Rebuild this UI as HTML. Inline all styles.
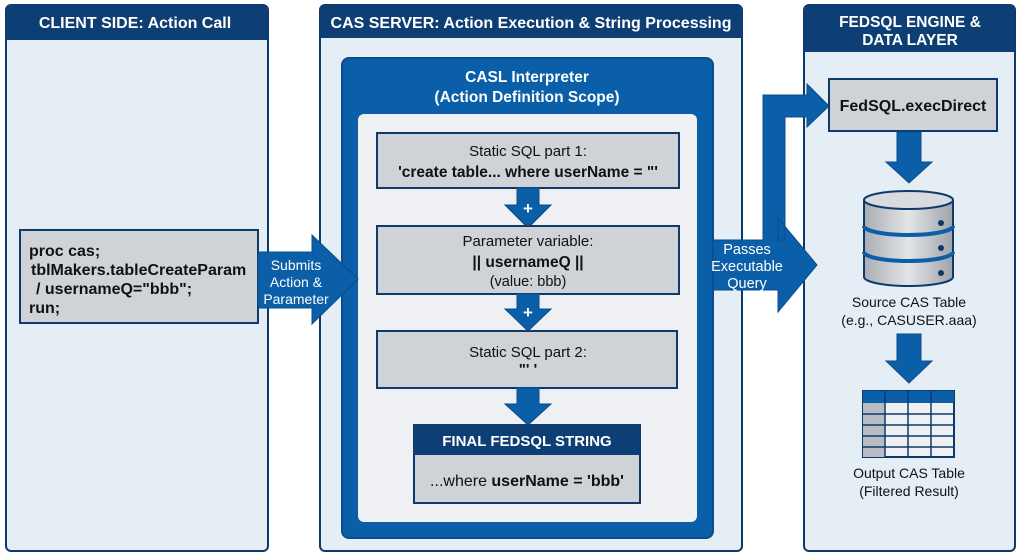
<!DOCTYPE html>
<html><head><meta charset="utf-8"><style>
body{margin:0;background:#fff;}
svg{display:block;font-family:"Liberation Sans",sans-serif;}
</style></head><body>
<svg width="1024" height="559" viewBox="0 0 1024 559">
<defs>
<linearGradient id="cyl" x1="0" x2="1"><stop offset="0" stop-color="#a9adb3"/><stop offset="0.5" stop-color="#e3e5e8"/><stop offset="1" stop-color="#9ea3a9"/></linearGradient>
</defs>
<!-- Left panel -->
<rect x="6" y="5" width="262" height="546" rx="5" fill="#e5edf5" stroke="#0d3a6b" stroke-width="2"/>
<path d="M6 40 V10 a5 5 0 0 1 5 -5 H263 a5 5 0 0 1 5 5 V40 Z" fill="#0e3f74"/>
<text x="135" y="28" fill="#fff" font-size="16" font-weight="bold" text-anchor="middle">CLIENT SIDE: Action Call</text>
<rect x="20" y="230" width="238" height="93" fill="#cfd2d6" stroke="#0d3a6b" stroke-width="2"/>
<g font-size="16" font-weight="bold" fill="#111">
<text x="29" y="256">proc cas;</text>
<text x="31" y="275">tblMakers.tableCreateParam</text>
<text x="36" y="294">/ usernameQ="bbb";</text>
<text x="29" y="313">run;</text>
</g>
<!-- Middle panel -->
<rect x="320" y="5" width="422" height="546" rx="5" fill="#e5edf5" stroke="#0d3a6b" stroke-width="2"/>
<path d="M320 38 V10 a5 5 0 0 1 5 -5 H737 a5 5 0 0 1 5 5 V38 Z" fill="#0e3f74"/>
<text x="531" y="28" fill="#fff" font-size="16" font-weight="bold" text-anchor="middle">CAS SERVER: Action Execution &amp; String Processing</text>
<rect x="342" y="58" width="371" height="480" rx="7" fill="#0b5ea8" stroke="#0b4c8a" stroke-width="2"/>
<text x="527" y="82" fill="#fff" font-size="15.5" font-weight="bold" text-anchor="middle">CASL Interpreter</text>
<text x="527" y="102" fill="#fff" font-size="15.5" font-weight="bold" text-anchor="middle">(Action Definition Scope)</text>
<rect x="358" y="114" width="339" height="408" rx="6" fill="#eef0f3"/>
<!-- boxes -->
<rect x="377" y="133" width="302" height="55" fill="#cfd2d6" stroke="#0d3a6b" stroke-width="2"/>
<text x="528" y="156" font-size="15" text-anchor="middle" fill="#111">Static SQL part 1:</text>
<text x="528" y="177" font-size="15.5" font-weight="bold" text-anchor="middle" fill="#111">'create table... where userName = "'</text>
<path d="M517 188 H539 V205 H551 L528 228 L505 205 H517 Z" fill="#0b5ea8" stroke="#0b4c8a"/>
<text x="528" y="214" font-size="17" font-weight="bold" fill="#fff" text-anchor="middle">+</text>
<rect x="377" y="226" width="302" height="68" fill="#cfd2d6" stroke="#0d3a6b" stroke-width="2"/>
<text x="528" y="246" font-size="15" text-anchor="middle" fill="#111">Parameter variable:</text>
<text x="528" y="267" font-size="15.5" font-weight="bold" text-anchor="middle" fill="#111">|| usernameQ ||</text>
<text x="528" y="286" font-size="14.5" text-anchor="middle" fill="#111">(value: bbb)</text>
<path d="M517 294 H539 V309 H551 L528 331 L505 309 H517 Z" fill="#0b5ea8" stroke="#0b4c8a"/>
<text x="528" y="318" font-size="17" font-weight="bold" fill="#fff" text-anchor="middle">+</text>
<rect x="377" y="331" width="300" height="57" fill="#cfd2d6" stroke="#0d3a6b" stroke-width="2"/>
<text x="528" y="357" font-size="15" text-anchor="middle" fill="#111">Static SQL part 2:</text>
<text x="528" y="374" font-size="15" font-weight="bold" text-anchor="middle" fill="#111">"' '</text>
<path d="M517 388 H539 V404 H551 L528 425 L505 404 H517 Z" fill="#0b5ea8" stroke="#0b4c8a"/>
<rect x="414" y="425" width="226" height="78" fill="#cfd2d6" stroke="#0d3a6b" stroke-width="2"/>
<rect x="414" y="425" width="226" height="30" fill="#0e3f74"/>
<text x="527" y="446" font-size="15" font-weight="bold" fill="#fff" text-anchor="middle">FINAL FEDSQL STRING</text>
<text x="527" y="486" font-size="16" text-anchor="middle" fill="#111">...where <tspan font-weight="bold">userName = 'bbb'</tspan></text>
<!-- Submits arrow -->
<path d="M258 252 H312 V235 L358 279 L312 324 V308 H258 Z" fill="#0b5ea8" stroke="#0b4c8a"/>
<g font-size="14" fill="#fff" text-anchor="middle">
<text x="296" y="270">Submits</text><text x="296" y="287">Action &amp;</text><text x="296" y="304">Parameter</text>
</g>
<!-- Right panel -->
<rect x="804" y="5" width="211" height="546" rx="5" fill="#e5edf5" stroke="#0d3a6b" stroke-width="2"/>
<path d="M804 52 V10 a5 5 0 0 1 5 -5 H1010 a5 5 0 0 1 5 5 V52 Z" fill="#0e3f74"/>
<text x="910" y="27" fill="#fff" font-size="15.5" font-weight="bold" text-anchor="middle">FEDSQL ENGINE &amp;</text>
<text x="910" y="45" fill="#fff" font-size="15.5" font-weight="bold" text-anchor="middle">DATA LAYER</text>
<!-- Passes arrow + up connector -->
<path d="M713 240 H763 V95 H807 V84 L829 106 L807 127 V117 H785 V240 H778 V218 L817 265 L778 312 V290 H713 Z" fill="#0b5ea8" stroke="#0b4c8a"/>
<g font-size="14.5" fill="#fff" text-anchor="middle">
<text x="747" y="254">Passes</text><text x="747" y="271">Executable</text><text x="747" y="288">Query</text>
</g>
<rect x="829" y="79" width="168" height="52" fill="#cfd2d6" stroke="#0d3a6b" stroke-width="2"/>
<text x="913" y="111" font-size="16" font-weight="bold" text-anchor="middle" fill="#111">FedSQL.execDirect</text>
<path d="M897 132 H921 V162 H932 L909 183 L886 162 H897 Z" fill="#0b5ea8" stroke="#0b4c8a"/>
<!-- Cylinder -->
<g stroke="#0d3a6b" stroke-width="2">
<path d="M864 200 V277 A44.5 9 0 0 0 953 277 V200" fill="url(#cyl)"/>
<ellipse cx="908.5" cy="200" rx="44.5" ry="9" fill="#d8dbdf"/>
<path d="M864 226 A44.5 9 0 0 0 953 226" fill="none" stroke="#0b5ea8" stroke-width="4"/>
<path d="M864 252 A44.5 9 0 0 0 953 252" fill="none" stroke="#0b5ea8" stroke-width="4"/>
</g>
<circle cx="941" cy="223" r="3" fill="#0d3a6b"/><circle cx="941" cy="248" r="3" fill="#0d3a6b"/><circle cx="941" cy="273" r="3" fill="#0d3a6b"/>
<text x="909" y="307" font-size="14" text-anchor="middle" fill="#111">Source CAS Table</text>
<text x="909" y="325" font-size="14" text-anchor="middle" fill="#111">(e.g., CASUSER.aaa)</text>
<path d="M897 334 H921 V361 H932 L909 383 L886 361 H897 Z" fill="#0b5ea8" stroke="#0b4c8a"/>
<!-- Table -->
<rect x="863" y="391" width="91" height="66" fill="#eef0f3" stroke="#0d3a6b" stroke-width="2"/>
<rect x="863" y="391" width="91" height="12" fill="#0b5ea8"/>
<rect x="863" y="403" width="22" height="54" fill="#b8bcc2"/>
<g stroke="#0d3a6b" stroke-width="1.5">
<line x1="885" y1="391" x2="885" y2="457"/><line x1="908" y1="391" x2="908" y2="457"/><line x1="931" y1="391" x2="931" y2="457"/>
<line x1="863" y1="414" x2="954" y2="414"/><line x1="863" y1="425" x2="954" y2="425"/><line x1="863" y1="436" x2="954" y2="436"/><line x1="863" y1="447" x2="954" y2="447"/>
</g>
<text x="909" y="478" font-size="14" text-anchor="middle" fill="#111">Output CAS Table</text>
<text x="909" y="496" font-size="14" text-anchor="middle" fill="#111">(Filtered Result)</text>
</svg>
</body></html>
